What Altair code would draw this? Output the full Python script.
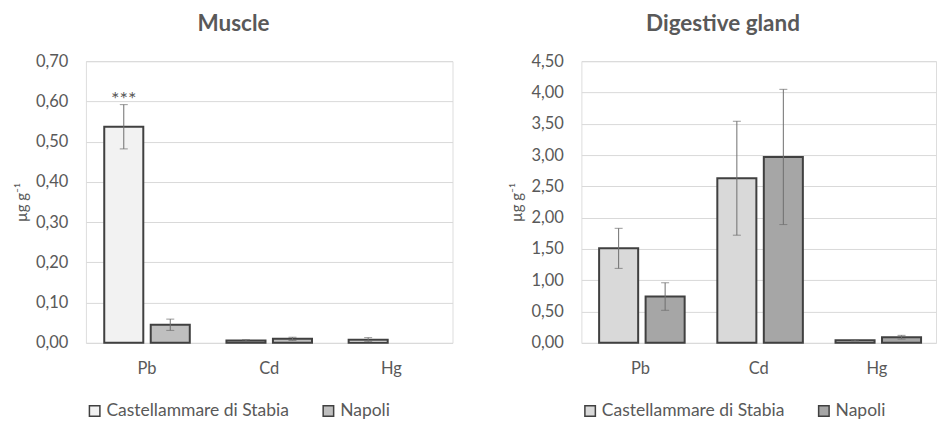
import altair as alt
import pandas as pd

elements = ["Pb", "Cd", "Hg"]
sites = ["Castellammare di Stabia", "Napoli"]

muscle_cast = [0.537, 0.006, 0.008]
muscle_cast_err = [0.055, 0.002, 0.005]
muscle_nap = [0.045, 0.010, None]
muscle_nap_err = [0.014, 0.004, None]

gland_cast = [1.51, 2.63, 0.04]
gland_cast_err = [0.32, 0.91, 0.01]
gland_nap = [0.74, 2.97, 0.09]
gland_nap_err = [0.22, 1.08, 0.03]

muscle_ticks = [0.0, 0.1, 0.2, 0.3, 0.4, 0.5, 0.6, 0.7]
gland_ticks = [0.0, 0.5, 1.0, 1.5, 2.0, 2.5, 3.0, 3.5, 4.0, 4.5]

muscle_colors = ["#f2f2f2", "#bfbfbf"]
gland_colors = ["#d9d9d9", "#a6a6a6"]

muscle_stars = [{"element": "Pb", "site": "Castellammare di Stabia", "value": 0.603, "label": "***"}]

TXT = "#595959"
FONT = "Lato"


def build_df(cast, cast_err, nap, nap_err):
    rows = []
    for i, el in enumerate(elements):
        for site, vals, errs in ((sites[0], cast, cast_err), (sites[1], nap, nap_err)):
            v = vals[i]
            if v is None:
                continue
            e = errs[i]
            rows.append({"element": el, "site": site, "value": v,
                         "lo": max(v - e, 0), "hi": v + e})
    return pd.DataFrame(rows)


def panel(df, title, ticks, colors, width, stars=None):
    ymax = ticks[-1]
    x = alt.X("element:N", sort=elements,
              scale=alt.Scale(paddingInner=0.3, paddingOuter=0.15),
              axis=alt.Axis(title=None, labelAngle=0, ticks=False, domain=False,
                            labelPadding=18, labelFontSize=16.5, labelColor=TXT,
                            labelFont=FONT))
    xo = alt.XOffset("site:N", sort=sites,
                     scale=alt.Scale(domain=sites, paddingInner=0.16, paddingOuter=0))
    yscale = alt.Scale(domain=[0, ymax], nice=False, zero=True)
    yaxis = alt.Axis(values=ticks, title="µg g⁻¹", labelOverlap=False,
                     labelExpr="replace(format(datum.value, '.2f'), '.', ',')",
                     labelFontSize=16.5, labelColor=TXT, labelFont=FONT, labelPadding=18,
                     ticks=False, domain=False, gridColor="#d9d9d9", gridWidth=1,
                     titleFontSize=15, titleFontWeight="normal", titleColor=TXT,
                     titleFont=FONT, titlePadding=6)

    def Y(field):
        return alt.Y(field, scale=yscale, axis=yaxis)

    color = alt.Color("site:N", sort=sites,
                      scale=alt.Scale(domain=sites, range=colors),
                      legend=alt.Legend(title=None, orient="bottom", direction="horizontal",
                                        symbolType="square", symbolSize=110,
                                        symbolStrokeColor="#404040", symbolStrokeWidth=1.5,
                                        labelFontSize=17.5, labelColor=TXT, labelFont=FONT,
                                        labelLimit=400,
                                        columnPadding=30, offset=24, labelOffset=3))
    base = alt.Chart(df)
    bars = base.mark_bar(stroke="#404040", strokeWidth=2).encode(
        x=x, xOffset=xo, y=Y("value:Q"), color=color)
    rules = base.mark_rule(color="#6e6e6e", strokeWidth=1).encode(
        x=x, xOffset=xo, y=Y("lo:Q"), y2="hi:Q")
    cap_hi = base.mark_tick(color="#6e6e6e", size=8, thickness=1).encode(
        x=x, xOffset=xo, y=Y("hi:Q"))
    cap_lo = base.mark_tick(color="#6e6e6e", size=8, thickness=1).encode(
        x=x, xOffset=xo, y=Y("lo:Q"))
    layers = [bars, rules, cap_hi, cap_lo]
    if stars:
        sdf = pd.DataFrame(stars)
        txt = alt.Chart(sdf).mark_text(fontSize=20, color=TXT, font=FONT, baseline="middle").encode(
            x=x, xOffset=xo, y=Y("value:Q"), text="label:N")
        layers.append(txt)
    return alt.layer(*layers).properties(
        width=width, height=282,
        title=alt.TitleParams(title, fontSize=22.5, fontWeight="bold", color=TXT, font=FONT,
                              anchor="middle", frame="bounds", offset=18))


muscle = panel(build_df(muscle_cast, muscle_cast_err, muscle_nap, muscle_nap_err),
               "Muscle", muscle_ticks, muscle_colors, 367, muscle_stars)
gland = panel(build_df(gland_cast, gland_cast_err, gland_nap, gland_nap_err),
              "Digestive gland", gland_ticks, gland_colors, 355)

chart = alt.hconcat(muscle, gland, spacing=56).resolve_scale(color="independent").properties(
    padding={"left": 6, "top": 4, "right": 0, "bottom": 0}
).configure_view(stroke=None).configure(font=FONT)

chart.save("out.html", embed_options={"renderer": "svg", "actions": False})
